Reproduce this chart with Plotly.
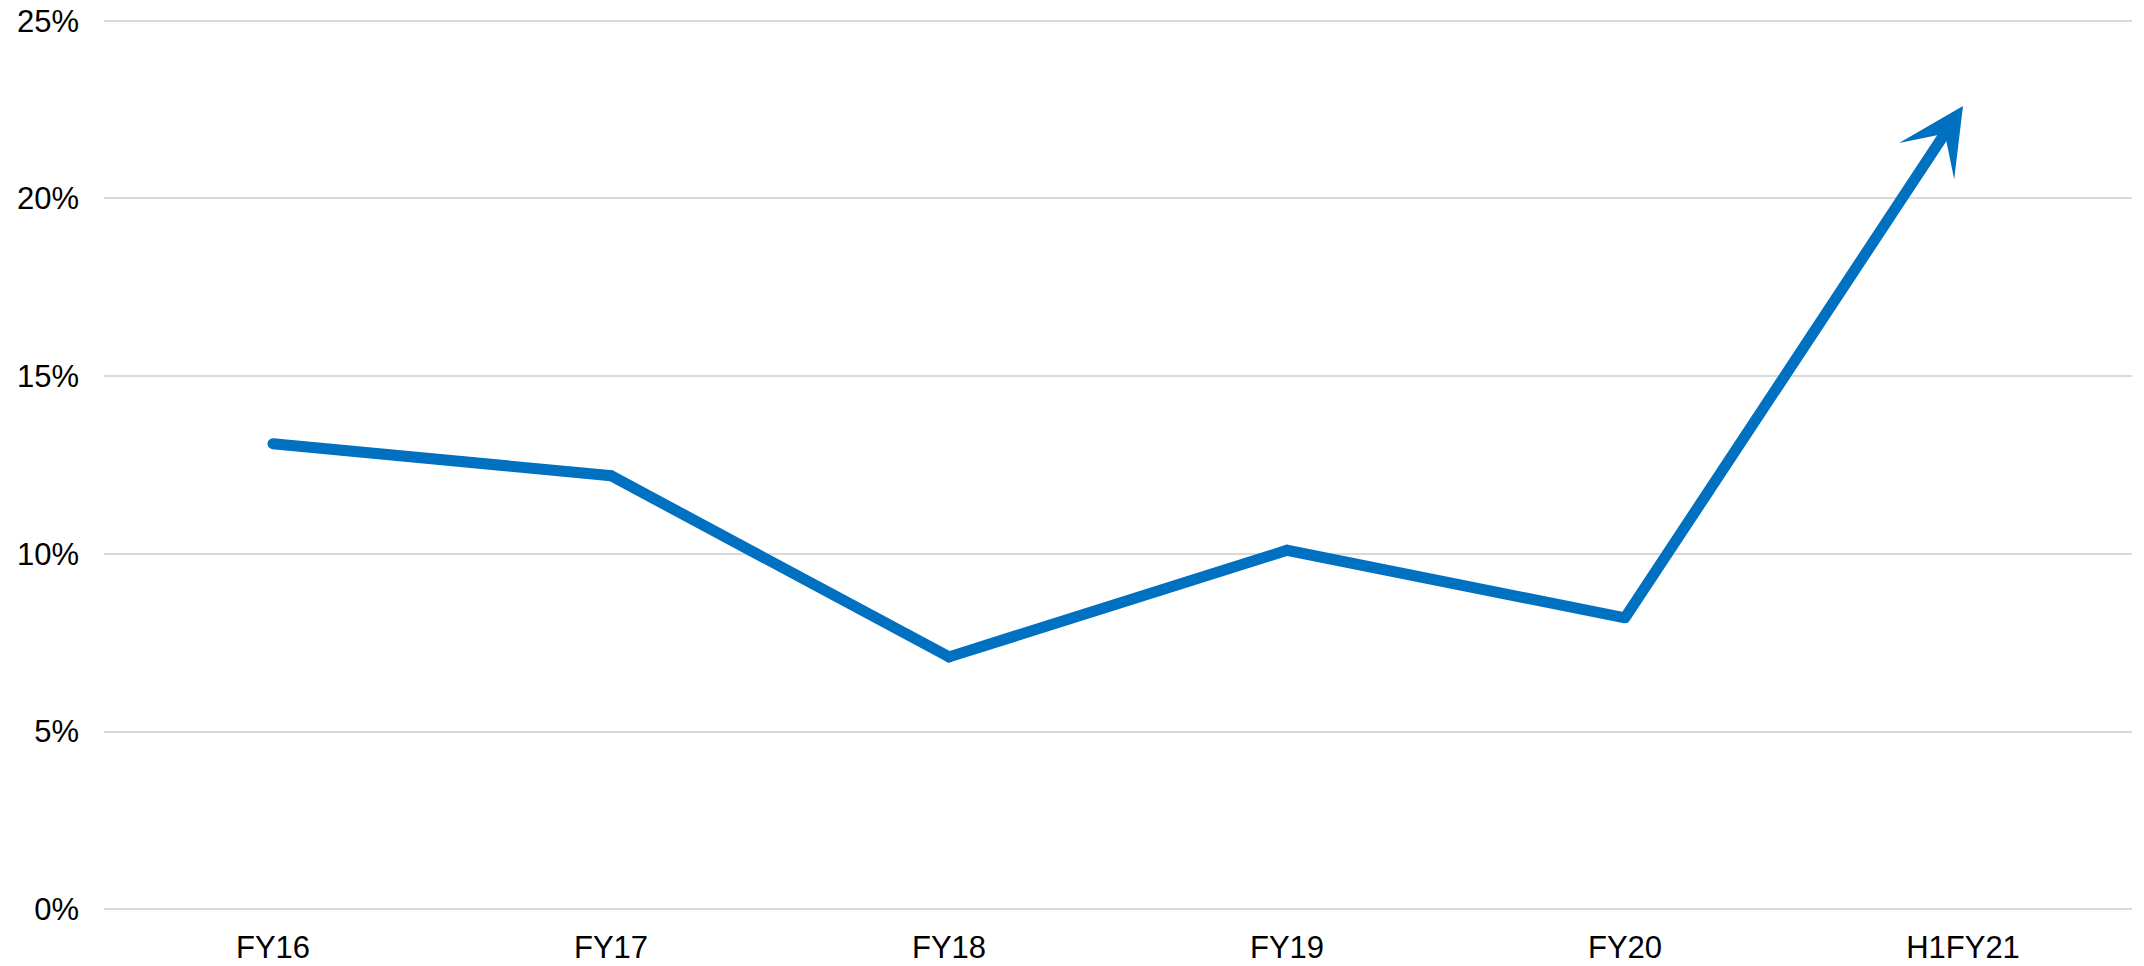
import plotly.graph_objects as go

categories = ["FY16", "FY17", "FY18", "FY19", "FY20", "H1FY21"]
values = [13.1, 12.2, 7.1, 10.1, 8.2, 22.6]
y_ticks = [0, 5, 10, 15, 20, 25]
y_tick_labels = ["0%", "5%", "10%", "15%", "20%", "25%"]

BLUE = "#0070C0"

fig = go.Figure()
# Line through all points except the final arrow segment (markers give round joins/caps)
fig.add_trace(go.Scatter(
    x=categories[:-1], y=values[:-1], mode="lines+markers",
    line=dict(color=BLUE, width=11),
    marker=dict(color=BLUE, size=11, line=dict(width=0)),
    hoverinfo="skip", showlegend=False,
))
# Invisible point so the last category is part of the axis
fig.add_trace(go.Scatter(
    x=[categories[-1]], y=[values[-1]], mode="markers",
    marker=dict(size=1, color="rgba(0,0,0,0)"),
    hoverinfo="skip", showlegend=False,
))
# Final segment with arrowhead
fig.add_annotation(
    x=categories[-1], y=values[-1], xref="x", yref="y",
    ax=categories[-2], ay=values[-2], axref="x", ayref="y",
    text="", showarrow=True, arrowhead=3, arrowsize=1.0,
    arrowwidth=11, arrowcolor=BLUE, standoff=0, startstandoff=0,
)

fig.update_layout(
    width=2144, height=966,
    margin=dict(l=104, r=12, t=19, b=55, autoexpand=False),
    paper_bgcolor="white", plot_bgcolor="white",
    font=dict(family="Liberation Sans, Arial, sans-serif", size=31, color="black"),
    xaxis=dict(
        type="category", categoryorder="array", categoryarray=categories,
        range=[-0.5, len(categories) - 0.5], automargin=False,
        showgrid=False, showline=False, zeroline=False, ticks="",
        ticklabelstandoff=15, ticklabeloverflow="allow",
    ),
    yaxis=dict(
        range=[-0.05, 25.05], tickvals=y_ticks, ticktext=y_tick_labels, automargin=False,
        showgrid=True, gridcolor="#d9d9d9", gridwidth=2,
        zeroline=False, showline=False, ticks="",
        ticklabelstandoff=24, ticklabeloverflow="allow",
    ),
)

fig.write_html(
    "out.html",
    config={"displayModeBar": False},
    post_script="document.body.style.margin='0';document.body.style.overflow='hidden';",
)
